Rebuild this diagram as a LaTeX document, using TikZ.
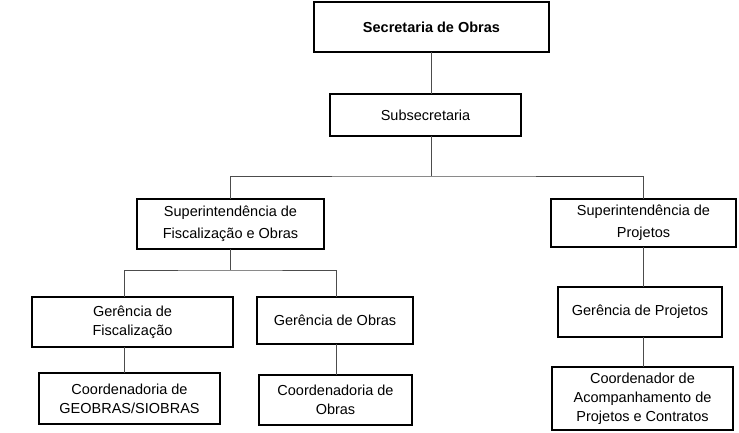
\documentclass[tikz,border=0pt]{standalone}
\usepackage{fontspec}
\setmainfont{Liberation Sans}
\begin{document}
\begin{tikzpicture}[x=1pt,y=-1pt,
  box/.style={draw,line width=1.2pt,align=center,font=\fontsize{14.5}{19}\selectfont,inner sep=0pt},
  ln/.style={line width=0.6pt,draw=black!70}]
\useasboundingbox (0,0) rectangle (739,432);
\newcommand{\bx}[6]{\node[box,minimum width=#4-#2,minimum height=#5-#3] (#1) at ({(#2+#4)/2},{(#3+#5)/2}) {#6};}
\bx{sec}{314}{2}{549}{52}{\textbf{Secretaria de Obras}}
\bx{sub}{330}{94}{521}{136}{Subsecretaria}
\bx{sf}{137}{199}{324}{249}{Superintendência de\\[3pt]Fiscalização e Obras}
\bx{sp}{551}{199}{736}{247}{Superintendência de\\[3pt]Projetos}
\bx{gf}{32}{297}{233}{347}{Gerência de\\Fiscalização}
\bx{go}{257}{297}{413}{344}{Gerência de Obras}
\bx{gp}{558}{287}{722}{337}{Gerência de Projetos}
\bx{cg}{39}{373}{220}{424}{Coordenadoria de\\GEOBRAS/SIOBRAS}
\bx{co}{259}{375}{412}{425}{Coordenadoria de\\Obras}
\bx{cp}{552}{367}{733}{430}{Coordenador de\\Acompanhamento de\\Projetos e Contratos}
\coordinate (j1) at (431,176);
\coordinate (j2) at (230,270);
\draw[ln] (431,52) -- (431,94);
\draw[ln] (431,136) -- (j1);
\draw[ln] (230,199) |- (j1) -| (643,199);
\draw[ln] (230,249) -- (j2);
\draw[ln] (124,297) |- (j2) -| (336,297);
\draw[ln] (124,347) -- (124,373);
\draw[ln] (336,344) -- (336,375);
\draw[ln] (643,247) -- (643,287);
\draw[ln] (643,337) -- (643,367);
\end{tikzpicture}
\end{document}
